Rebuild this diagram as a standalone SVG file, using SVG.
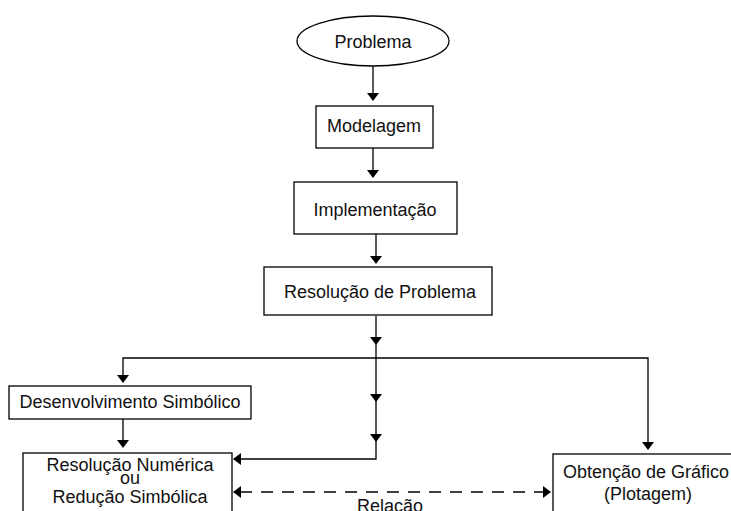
<svg xmlns="http://www.w3.org/2000/svg" xmlns:xlink="http://www.w3.org/1999/xlink" width="731" height="511" viewBox="0 0 731 511">
<style>
.n{fill:#fff;stroke:#000;stroke-width:1.3}
.t{font-family:"Liberation Sans",Arial,sans-serif;font-size:18px;fill:#111;text-anchor:middle}
.c{fill:none;stroke:#000;stroke-width:1.3}
.d{stroke-dasharray:12 9}
</style>
<defs>
<path id="ah" d="M-6,-8 L6,-8 L0,0 Z" fill="#000"/>
</defs>
<rect width="731" height="511" fill="#fff"/>
<g id="connectors">
<line class="c" x1="373" y1="66" x2="373" y2="100"/>
<line class="c" x1="373" y1="148" x2="373" y2="176"/>
<line class="c" x1="376" y1="234" x2="376" y2="262"/>
<path class="c" d="M376,316 V459 H234"/>
<path class="c" d="M123,382 V358 H648 V448"/>
<line class="c" x1="123" y1="419" x2="123" y2="446"/>
<line class="c d" x1="240" y1="492" x2="544" y2="492"/>
<use xlink:href="#ah" transform="translate(373,101)"/>
<use xlink:href="#ah" transform="translate(373,178)"/>
<use xlink:href="#ah" transform="translate(376,264)"/>
<use xlink:href="#ah" transform="translate(376,345)"/>
<use xlink:href="#ah" transform="translate(123,383)"/>
<use xlink:href="#ah" transform="translate(123,448)"/>
<use xlink:href="#ah" transform="translate(376,402)"/>
<use xlink:href="#ah" transform="translate(376,442)"/>
<use xlink:href="#ah" transform="translate(648,450)"/>
<use xlink:href="#ah" transform="translate(233,459) rotate(90)"/>
<use xlink:href="#ah" transform="translate(233,492) rotate(90)"/>
<use xlink:href="#ah" transform="translate(551,492) rotate(-90)"/>
</g>
<g id="problema">
<ellipse class="n" cx="373" cy="41" rx="76" ry="25"/>
<text class="t" x="373" y="48">Problema</text>
</g>
<g id="modelagem">
<rect class="n" x="316" y="106" width="117" height="42"/>
<text class="t" x="374" y="132">Modelagem</text>
</g>
<g id="implementacao">
<rect class="n" x="294" y="182" width="163" height="52"/>
<text class="t" x="375" y="216">Implementação</text>
</g>
<g id="resolucao-problema">
<rect class="n" x="264" y="267" width="228" height="48"/>
<text class="t" x="380" y="298">Resolução de Problema</text>
</g>
<g id="desenvolvimento">
<rect class="n" x="9" y="386" width="242" height="33"/>
<text class="t" x="130" y="408">Desenvolvimento Simbólico</text>
</g>
<g id="resolucao-numerica">
<rect class="n" x="23" y="453" width="209" height="70"/>
<text class="t" x="130" y="471">Resolução Numérica</text>
<text class="t" x="130" y="484">ou</text>
<text class="t" x="130" y="503">Redução Simbólica</text>
</g>
<g id="grafico">
<rect class="n" x="553" y="454" width="195" height="70"/>
<text class="t" x="646" y="478">Obtenção de Gráfico</text>
<text class="t" x="648" y="500">(Plotagem)</text>
</g>
<text class="t" x="390" y="512">Relação</text>
</svg>
